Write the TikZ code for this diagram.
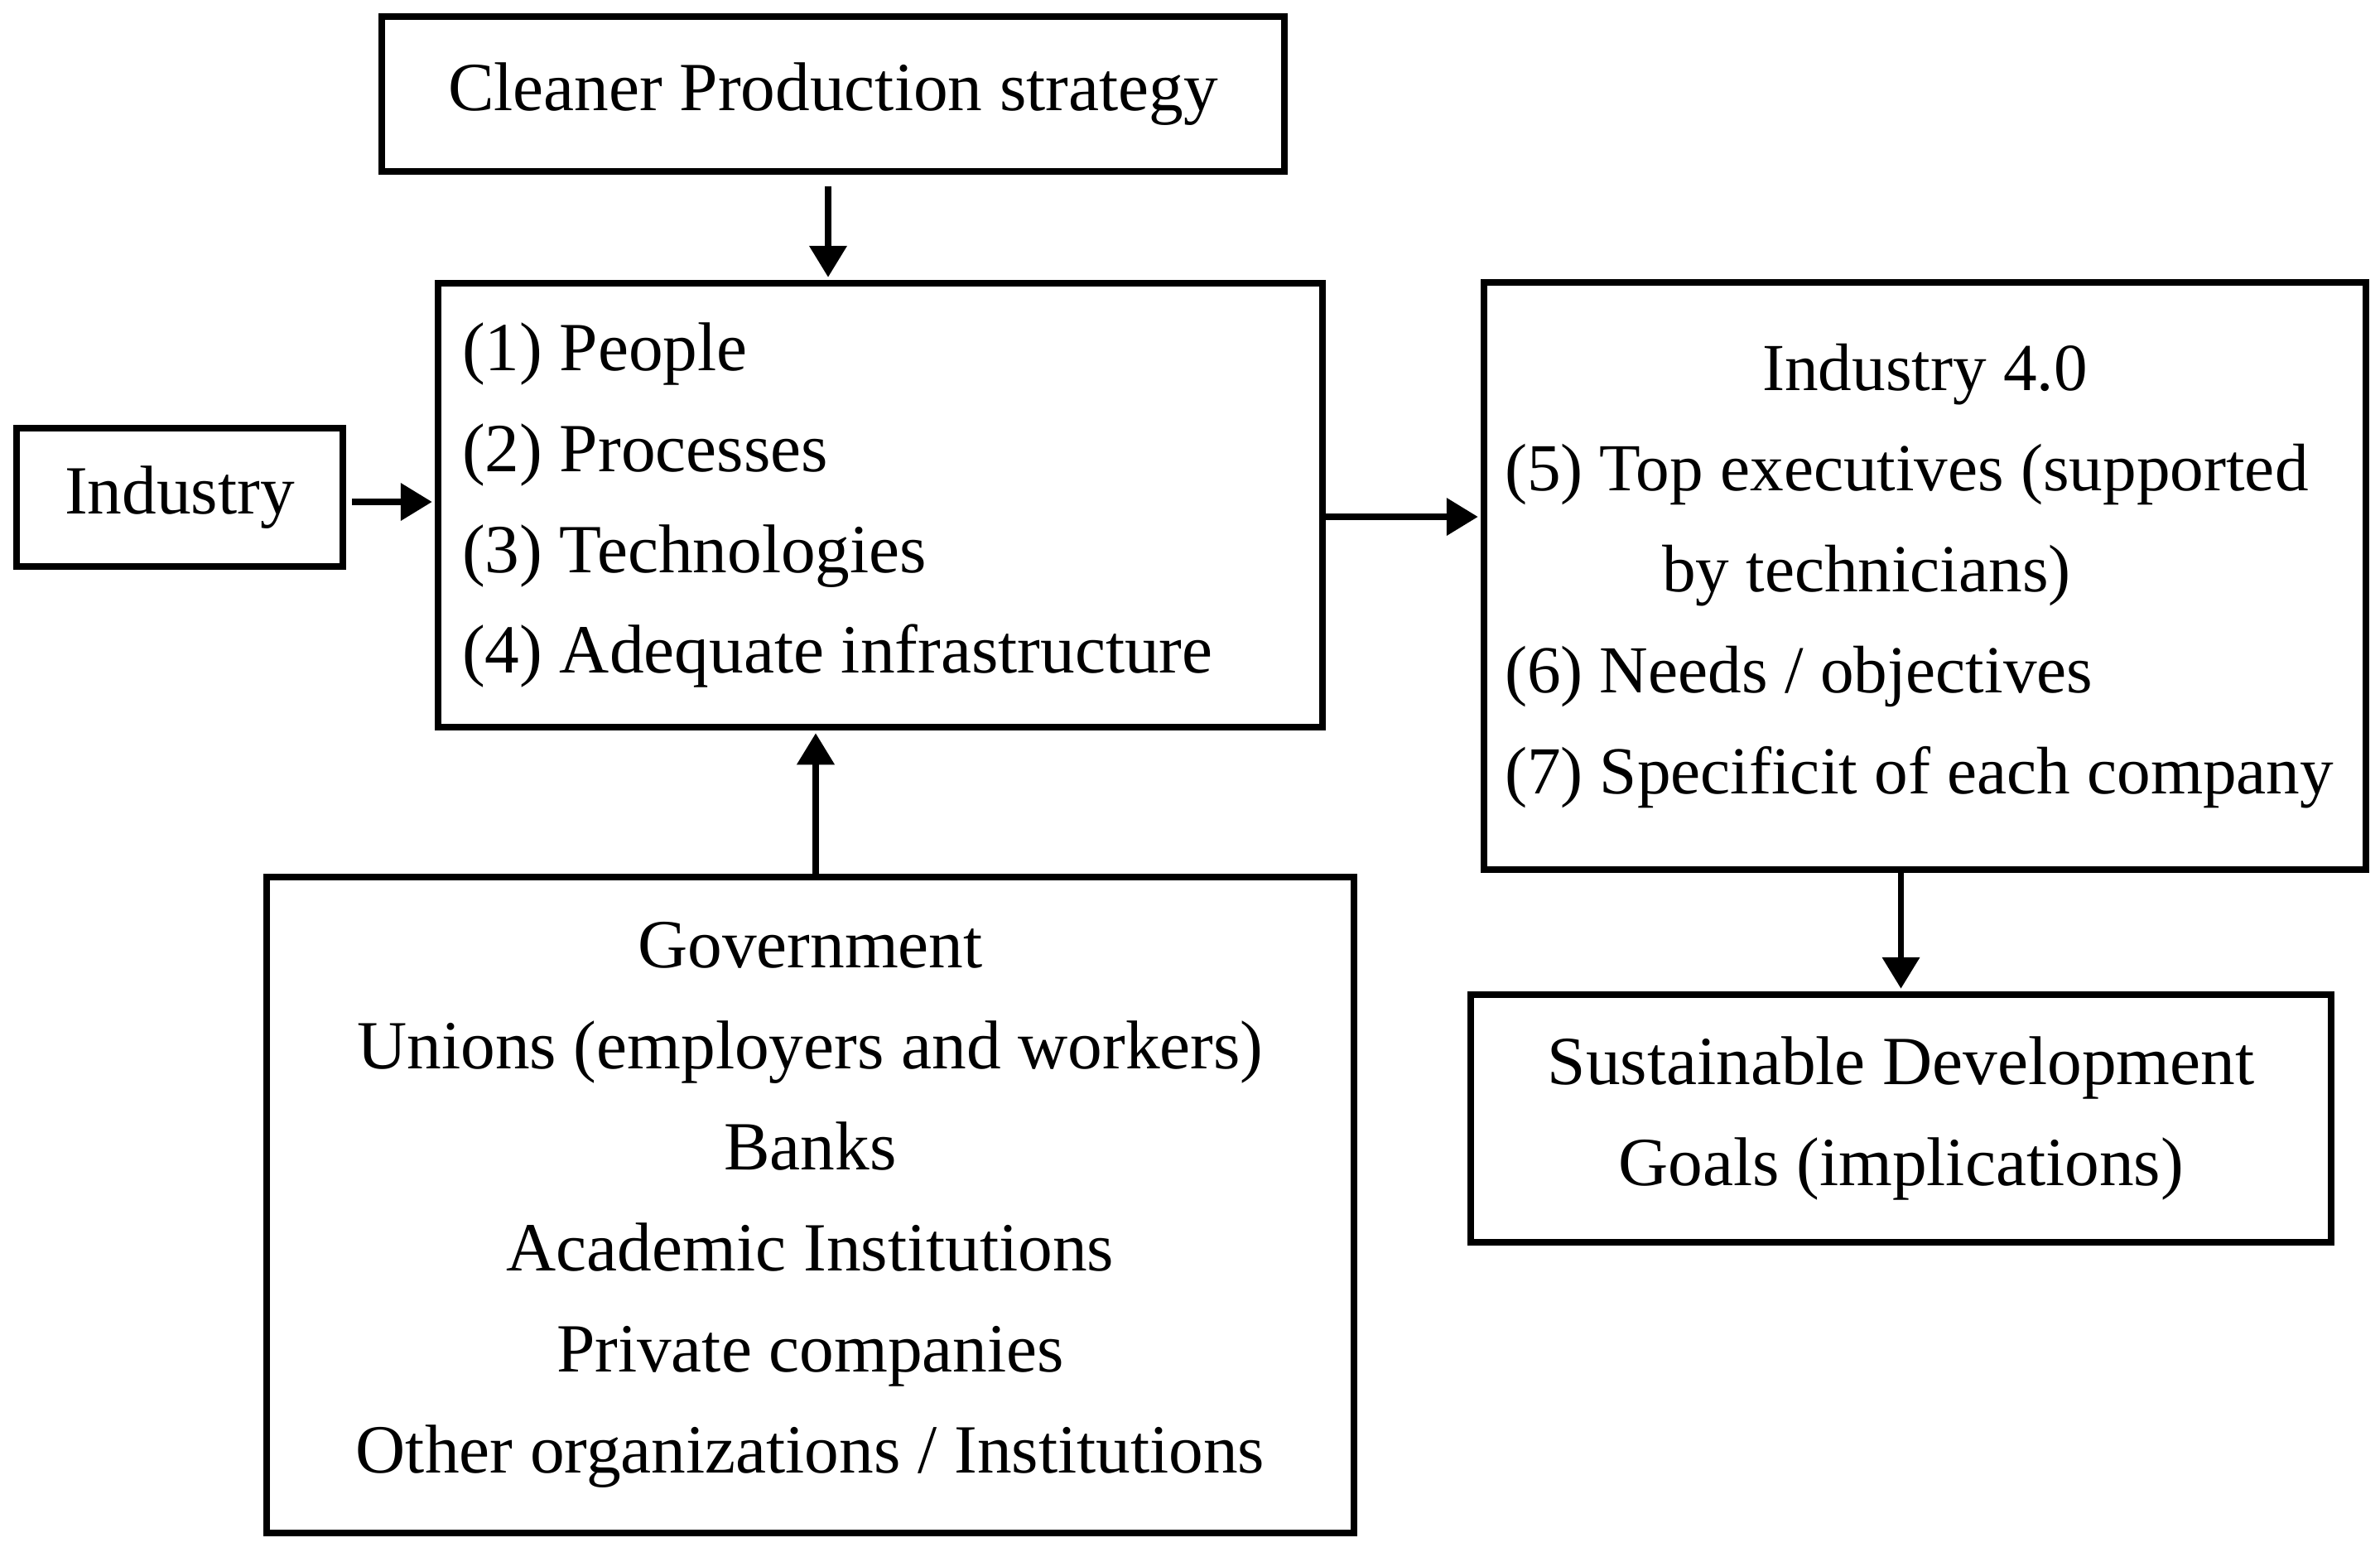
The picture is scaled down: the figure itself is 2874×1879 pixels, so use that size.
\documentclass[tikz,border=0pt]{standalone}
\usepackage{fontspec}
\setmainfont{Liberation Serif}
\usetikzlibrary{arrows.meta}
\tikzset{
  box/.style={draw, line width=0.75mm, rectangle, inner ysep=0pt,
    font=\fontsize{23.7}{34.7}\selectfont},
  arr/.style={line width=0.75mm, -{Triangle[length=3.8mm,width=4.4mm]}}
}
\begin{document}
\begin{tikzpicture}[x=0.1mm,y=-0.1mm]
\useasboundingbox (0,0) rectangle (2874,1879);
\node[box, minimum width=109mm, minimum height=18.7mm, align=center] (top) at (1006,113.5) {Cleaner Production strategy};
\node[box, minimum width=106.8mm, minimum height=53.6mm, inner xsep=2.9mm, text width=101mm, align=flush left] (mid) at (1063,610)
  {(1) People\\(2) Processes\\(3) Technologies\\(4) Adequate infrastructure};
\node[box, minimum width=39.4mm, minimum height=16.7mm, align=center] (ind) at (217,600.5) {Industry};
\node[box, minimum width=106.5mm, minimum height=70.9mm, inner xsep=2.5mm, text width=101.5mm, align=flush left,
  font=\fontsize{23.1}{34.7}\selectfont] (right) at (2324.5,695.5)
  {\makebox[\linewidth][c]{Industry 4.0}\\\mbox{(5) Top executives (supported}\\\hspace*{19mm}\mbox{by technicians)}\\\mbox{(6) Needs / objectives}\\\mbox{(7) Specificit of each company}};
\node[box, minimum width=131.3mm, minimum height=79.2mm, align=center] (bot) at (978.5,1455)
  {Government\\Unions (employers and workers)\\Banks\\Academic Institutions\\Private companies\\Other organizations / Institutions};
\node[box, minimum width=103.9mm, minimum height=29.9mm, align=center] (sdg) at (2295.5,1350.5)
  {Sustainable Development\\Goals (implications)};
\coordinate (lvlA) at (0,606);
\coordinate (lvlB) at (0,624);
\coordinate (colC) at (985,0);
\draw[arr, shorten <=1.4mm, shorten >=0.35mm] ([xshift=-0.6mm]top.south) -- ([xshift=-0.6mm]top.south |- mid.north);
\draw[arr, shorten <=0.7mm, shorten >=0.35mm] (ind.east |- lvlA) -- (mid.west |- lvlA);
\draw[arr, shorten >=0.35mm] (mid.east |- lvlB) -- (right.west |- lvlB);
\draw[arr, shorten >=0.35mm] (colC |- bot.north) -- (colC |- mid.south);
\draw[arr, shorten >=0.35mm] (sdg.north |- right.south) -- (sdg.north);
\end{tikzpicture}
\end{document}
